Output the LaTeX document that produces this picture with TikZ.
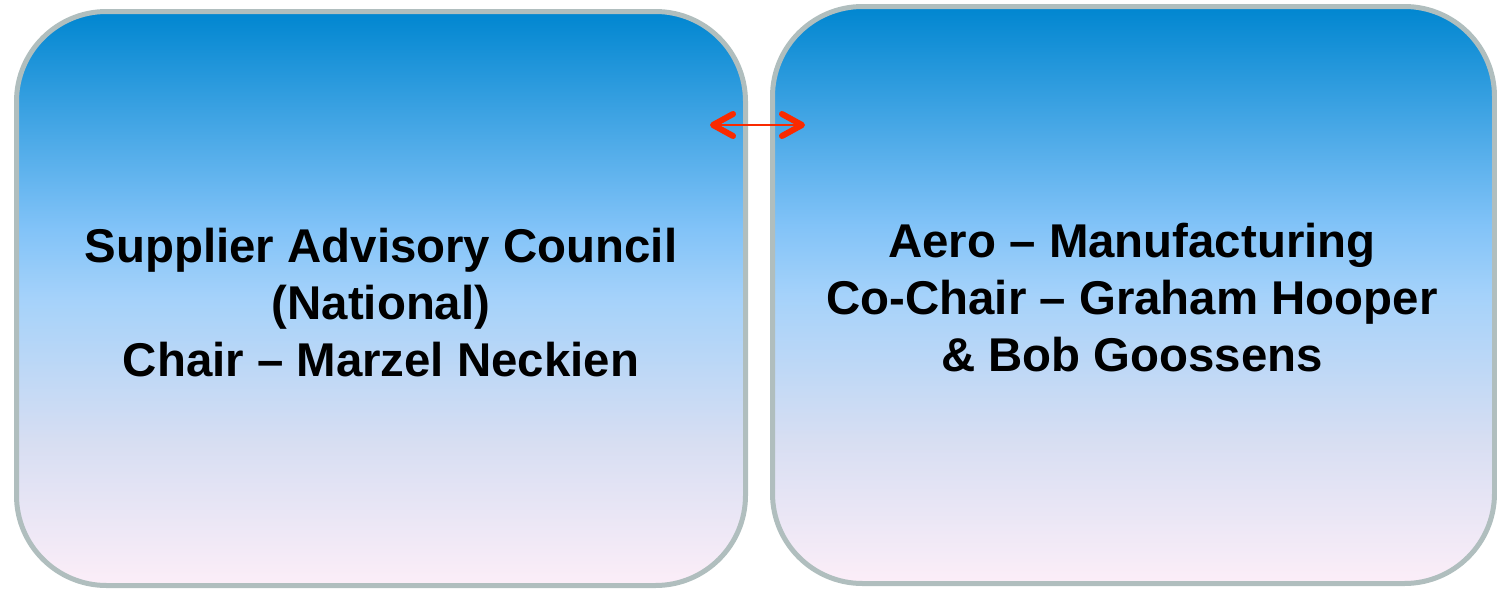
\documentclass[tikz,border=0pt]{standalone}
\usepackage{fontspec}
\setmainfont{Liberation Sans}
\usepackage{tikz}
\usetikzlibrary{positioning,arrows.meta}

\definecolor{panelTop}{RGB}{0,134,208}
\definecolor{panelSky}{RGB}{130,195,248}
\definecolor{panelMid}{RGB}{165,210,250}
\definecolor{panelLow}{RGB}{215,222,242}
\definecolor{panelPink}{RGB}{252,238,248}
\definecolor{panelEdge}{RGB}{176,190,190}
\definecolor{linkRed}{RGB}{250,42,0}

\pgfdeclareverticalshading{panelfade}{100bp}{color(0bp)=(panelPink); color(25bp)=(panelPink); color(37.5bp)=(panelLow); color(50bp)=(panelMid); color(56bp)=(panelSky); color(75bp)=(panelTop); color(100bp)=(panelTop)}

\begin{document}
\begin{tikzpicture}[
  x=1pt, y=-1pt,
  panel/.style={draw=panelEdge, line width=5pt, rounded corners=90pt, shading=panelfade},
  caption/.style={align=center, font=\bfseries\fontsize{47.4}{57}\selectfont, inner sep=0pt},
  arrow/.style={<->, >={Straight Barb[length=20pt,width=22pt,line width=6pt 0,round]}, line width=2.5pt, draw=linkRed}
]
\useasboundingbox (0,0) rectangle (1497,589);

% Panels
\node[panel, minimum width=729pt, minimum height=574pt] (council) at (381,298.5) {};
\node[panel, minimum width=722pt, minimum height=577pt] (aero) at (1133.5,295) {};

% Panel texts
\node[caption] (councilText) at ([yshift=-4pt]council.center) {Supplier Advisory Council \\ (National) \\ Chair -- Marzel Neckien};
\node[caption] (aeroText) at ([xshift=-1.5pt,yshift=-3pt]aero.center) {Aero -- Manufacturing \\ Co-Chair -- Graham Hooper \\ \& Bob Goossens};

% Link between the panels
\coordinate (linkL) at (710,125);
\coordinate (linkR) at (805,125);
\draw[arrow] (linkL) -- (linkR);

\end{tikzpicture}
\end{document}
